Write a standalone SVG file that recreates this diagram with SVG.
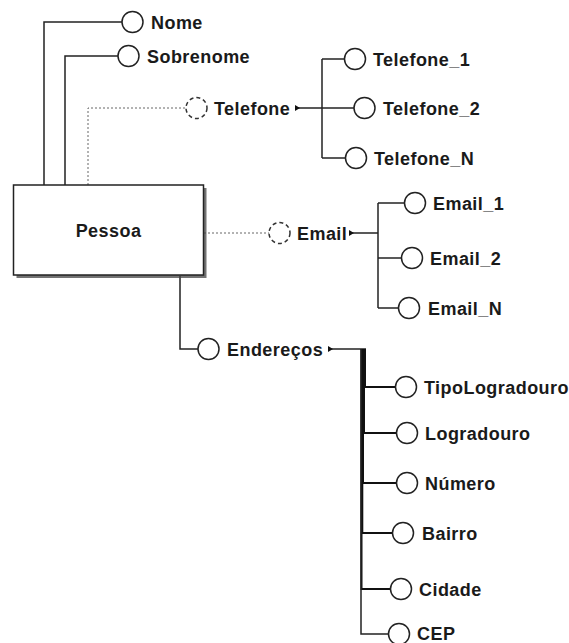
<svg xmlns="http://www.w3.org/2000/svg" width="569" height="643" viewBox="0 0 569 643">
  <defs>
    <style>
      .ln { fill: none; stroke: #222; stroke-width: 1.5; }
      .bus { fill: none; stroke: #111; stroke-width: 2; }
      .dot { fill: none; stroke: #666; stroke-width: 1; stroke-dasharray: 2 2; }
      .attr { fill: #fff; stroke: #222; stroke-width: 1.5; }
      .multi { fill: #fff; stroke: #333; stroke-width: 1.5; stroke-dasharray: 4 3; }
      .lbl { font-family: "Liberation Sans", Arial, sans-serif; font-weight: bold; font-size: 18px; letter-spacing: 0.45px; fill: #1a1a1a; }
      .ent { fill: #fff; stroke: #222; stroke-width: 1.5; }
    </style>
    <marker id="tri" markerWidth="5" markerHeight="6" refX="0" refY="3" orient="auto" markerUnits="userSpaceOnUse">
      <path d="M0,0 L5,3 L0,6 Z" fill="#111"/>
    </marker>
  </defs>

  <!-- connectors -->
  <g id="connectors">
    <path class="ln" d="M44,185 V22 H122"/>
    <path class="ln" d="M65,185 V56 H118"/>
    <path class="dot" d="M88,185 V108 H186"/>
    <path class="dot" d="M204,233 H269"/>
    <path class="ln" d="M180,276 V349 H198"/>

    <!-- Telefone values -->
    <path class="ln" d="M295,108 H354" marker-start="url(#tri)"/>
    <path class="ln" d="M322,59 V158"/>
    <path class="ln" d="M322,59 H344.5"/>
    <path class="ln" d="M322,158 H345.5"/>

    <!-- Email values -->
    <path class="ln" d="M349,233 H378" marker-start="url(#tri)"/>
    <path class="ln" d="M378,203 V308"/>
    <path class="ln" d="M378,203 H404.5"/>
    <path class="ln" d="M378,258 H401.5"/>
    <path class="ln" d="M378,308 H398.5"/>

    <!-- Endereço fields: one elbow per field, bundled into a bus -->
    <path class="ln" d="M328,349 H366" marker-start="url(#tri)"/>
    <path class="bus" d="M365,349 V387 H395.5"/>
    <path class="bus" d="M364,349 V433 H396.5"/>
    <path class="bus" d="M363,349 V483 H396.5"/>
    <path class="bus" d="M362.3,349 V533 H392.5"/>
    <path class="bus" d="M361.5,349 V589 H390.5"/>
    <path class="ln" d="M361,349 V634 H388.5"/>
  </g>

  <!-- entity -->
  <g id="pessoa">
    <rect x="16.5" y="188" width="190" height="90" fill="#444" opacity="0.75"/>
    <rect class="ent" x="13.5" y="185" width="190" height="90"/>
    <text class="lbl" x="108.5" y="236.5" text-anchor="middle">Pessoa</text>
  </g>

  <g id="nome">
    <circle class="attr" cx="132.5" cy="22" r="10.5"/>
    <text class="lbl" x="151" y="28.5">Nome</text>
  </g>
  <g id="sobrenome">
    <circle class="attr" cx="128.5" cy="56" r="10.5"/>
    <text class="lbl" x="147" y="62.5">Sobrenome</text>
  </g>

  <g id="telefone">
    <circle class="multi" cx="196.5" cy="108" r="10.5"/>
    <text class="lbl" x="214" y="114.5">Telefone</text>
  </g>
  <g id="telefone_1">
    <circle class="attr" cx="355" cy="59" r="10.5"/>
    <text class="lbl" x="373" y="65.5">Telefone_1</text>
  </g>
  <g id="telefone_2">
    <circle class="attr" cx="364.5" cy="108" r="10.5"/>
    <text class="lbl" x="383" y="114.5">Telefone_2</text>
  </g>
  <g id="telefone_n">
    <circle class="attr" cx="356" cy="158" r="10.5"/>
    <text class="lbl" x="374" y="164.5">Telefone_N</text>
  </g>

  <g id="email">
    <circle class="multi" cx="279.5" cy="233" r="10.5"/>
    <text class="lbl" x="297" y="239.5">Email</text>
  </g>
  <g id="email_1">
    <circle class="attr" cx="415" cy="203" r="10.5"/>
    <text class="lbl" x="433" y="209.5">Email_1</text>
  </g>
  <g id="email_2">
    <circle class="attr" cx="412" cy="258" r="10.5"/>
    <text class="lbl" x="430" y="264.5">Email_2</text>
  </g>
  <g id="email_n">
    <circle class="attr" cx="409" cy="308" r="10.5"/>
    <text class="lbl" x="428" y="314.5">Email_N</text>
  </g>

  <g id="enderecos">
    <circle class="attr" cx="208.5" cy="349" r="10.5"/>
    <text class="lbl" x="227" y="355.5">Endereços</text>
  </g>
  <g id="tipologradouro">
    <circle class="attr" cx="406" cy="387" r="10.5"/>
    <text class="lbl" x="424" y="393.5">TipoLogradouro</text>
  </g>
  <g id="logradouro">
    <circle class="attr" cx="407" cy="433" r="10.5"/>
    <text class="lbl" x="425" y="439.5">Logradouro</text>
  </g>
  <g id="numero">
    <circle class="attr" cx="407" cy="483" r="10.5"/>
    <text class="lbl" x="425" y="489.5">Número</text>
  </g>
  <g id="bairro">
    <circle class="attr" cx="403" cy="533" r="10.5"/>
    <text class="lbl" x="422" y="539.5">Bairro</text>
  </g>
  <g id="cidade">
    <circle class="attr" cx="401" cy="589" r="10.5"/>
    <text class="lbl" x="419" y="595.5">Cidade</text>
  </g>
  <g id="cep">
    <circle class="attr" cx="399" cy="634" r="10.5"/>
    <text class="lbl" x="417" y="640">CEP</text>
  </g>
</svg>
